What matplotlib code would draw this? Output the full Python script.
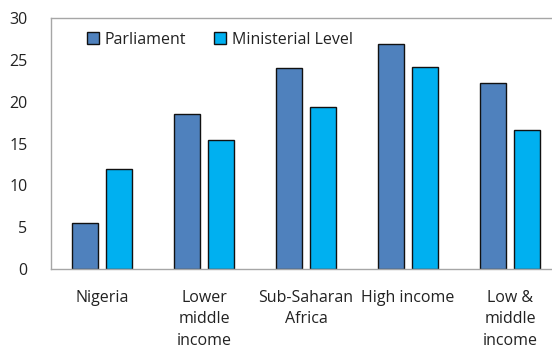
import matplotlib
matplotlib.use("Agg")
import matplotlib.pyplot as plt
import numpy as np

categories = ["Nigeria", "Lower\nmiddle\nincome", "Sub-Saharan\nAfrica", "High income", "Low &\nmiddle\nincome"]
parliament = [5.5, 18.5, 24.1, 26.9, 22.3]
ministerial = [12.0, 15.4, 19.4, 24.2, 16.6]
series_names = ["Parliament", "Ministerial Level"]
yticks = [0, 5, 10, 15, 20, 25, 30]

plt.rcParams["font.family"] = ["Open Sans", "DejaVu Sans"]

fig = plt.figure(figsize=(5.52, 3.48), dpi=100)
W, H = 552, 348
left, right, top, bottom = 51, 561, 18.3, 269
ax = fig.add_axes([left / W, 1 - bottom / H, (right - left) / W, (bottom - top) / H])

x = np.arange(len(categories))
w = 0.255
off = 0.162
ax.bar(x - off, parliament, w, color="#4F81BD", edgecolor="#111111", linewidth=1.0, label=series_names[0])
ax.bar(x + off, ministerial, w, color="#00B0F0", edgecolor="#111111", linewidth=1.0, label=series_names[1])

ax.set_xlim(-0.5, len(categories) - 0.5)
ax.set_ylim(0, 30)
ax.set_yticks(yticks)
ax.set_xticks(x)
ax.set_xticklabels(categories, linespacing=1.45)
ax.tick_params(axis="both", length=0, labelsize=11.5, colors="#222222")
ax.tick_params(axis="y", pad=17)
ax.tick_params(axis="x", pad=15)

for s in ["left", "top", "right", "bottom"]:
    ax.spines[s].set_color("#a6a6a6")
    ax.spines[s].set_linewidth(1.0)

leg = ax.legend(loc="upper left", bbox_to_anchor=(0.052, 0.985), ncol=2, frameon=False,
                fontsize=11.5, handlelength=0.75, handleheight=0.75, handletextpad=0.35,
                columnspacing=1.75, borderaxespad=0.2)
for t in leg.get_texts():
    t.set_color("#222222")

fig.savefig("out.png", dpi=100)
